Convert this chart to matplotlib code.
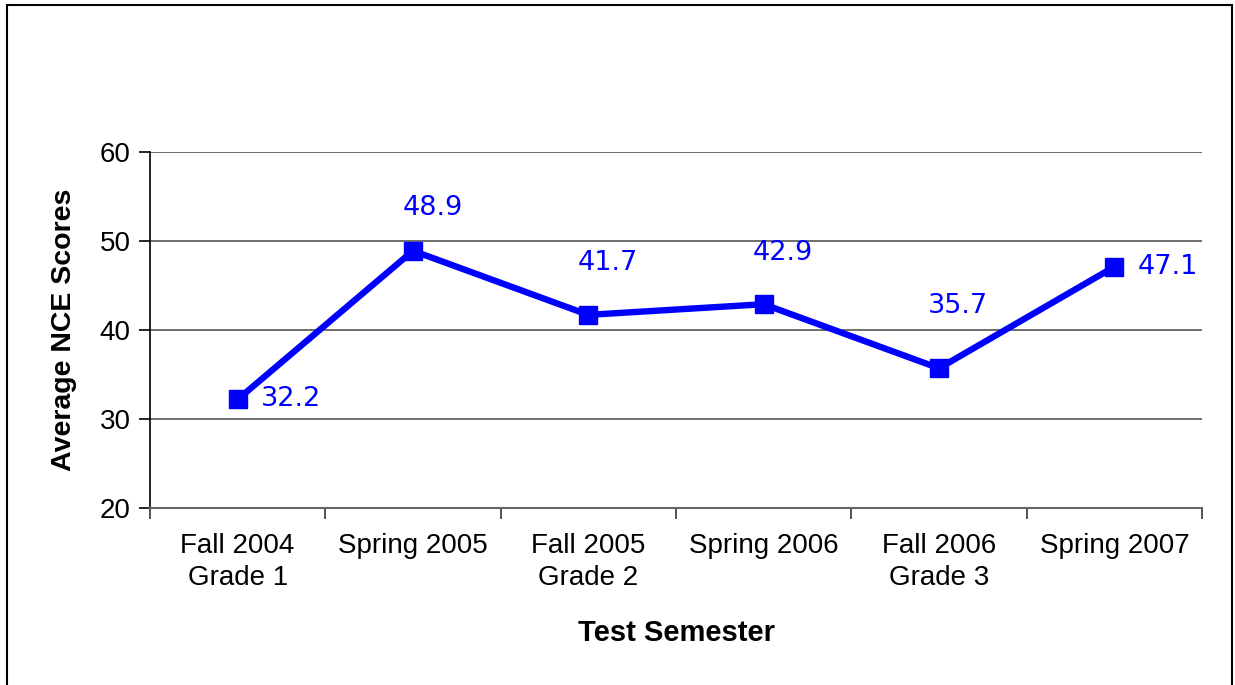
import matplotlib.pyplot as plt
from matplotlib.patches import Rectangle

semesters = ['Fall 2004\nGrade 1', 'Spring 2005', 'Fall 2005\nGrade 2',
             'Spring 2006', 'Fall 2006\nGrade 3', 'Spring 2007']
scores = [32.2, 48.9, 41.7, 42.9, 35.7, 47.1]

# label offsets from each marker, in points (dx, dy), label centred there
label_offsets = [(17, 0), (14, 31), (14, 37), (14, 37), (14, 45), (17, 0)]
label_align = ['left', 'center', 'center', 'center', 'center', 'left']

plt.rcParams['font.family'] = ['Liberation Sans', 'DejaVu Sans']
narrow = ['Liberation Sans Narrow', 'DejaVu Sans Condensed', 'DejaVu Sans']

fig = plt.figure(figsize=(12.35, 6.85), dpi=100)
ax = fig.add_axes([150 / 1235, 1 - 508 / 685, 1052 / 1235, 356 / 685])

x = range(len(scores))
ax.plot(x, scores, color='#0000ff', lw=4.6, marker='s', ms=13,
        solid_joinstyle='miter', zorder=3)

for i, v in enumerate(scores):
    dx, dy = label_offsets[i]
    ax.annotate(f'{v:.1f}', (i, v), xytext=(dx, dy), textcoords='offset points',
                ha=label_align[i], va='center', color='#0000ff',
                fontsize=19.5, family=narrow)

ax.set_xlim(-0.5, len(scores) - 0.5)
ax.set_ylim(20, 60)
ax.set_yticks([20, 30, 40, 50, 60])
ax.yaxis.grid(True, color='#555555', lw=1.2)
ax.set_axisbelow(True)

ax.set_xticks(range(len(scores)))
ax.set_xticklabels(semesters, fontsize=20, linespacing=1.3)
ax.set_xticks([i - 0.5 for i in range(len(scores) + 1)], minor=True)
ax.tick_params(axis='x', which='major', length=0, pad=18)
ax.tick_params(axis='x', which='minor', length=8, width=1.2, color='#333333')
ax.tick_params(axis='y', labelsize=20, length=8, width=1.2, pad=6)

for s in ['top', 'right']:
    ax.spines[s].set_visible(False)
ax.spines['left'].set_linewidth(1.2)
ax.spines['bottom'].set_color('#666666')
ax.spines['bottom'].set_linewidth(1.5)

ax.set_xlabel('Test Semester', fontsize=21, fontweight='bold', labelpad=20)
ax.set_ylabel('Average NCE Scores', fontsize=20.5, fontweight='bold', labelpad=16)

fig.patches.append(Rectangle((7 / 1235, -0.02), 1225 / 1235, 1 - 5 / 685 + 0.02,
                             transform=fig.transFigure, fill=False,
                             edgecolor='black', lw=1.5))

fig.savefig('out.png', dpi=100)
